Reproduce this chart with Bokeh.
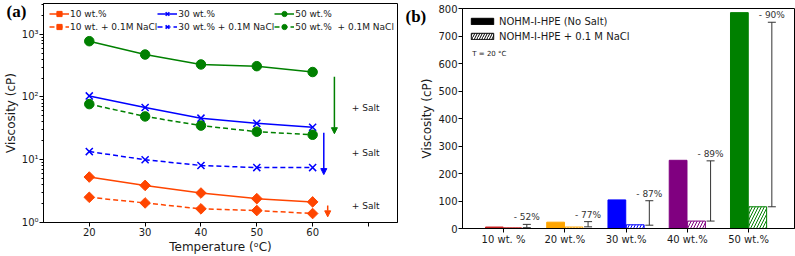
import numpy as np
from bokeh.plotting import figure
from bokeh.models import (ColumnDataSource, Legend, LegendItem, Label, Arrow,
                          NormalHead, Whisker, TeeHead, FixedTicker, Range1d)
from bokeh.layouts import row
from bokeh.embed import file_html
from bokeh.resources import INLINE
from bokeh.core.properties import value

# ---------------- data: panel (a) ----------------
temps = [20, 30, 40, 50, 60]
v10 = [5.3, 3.9, 2.95, 2.4, 2.13]
v10_salt = [2.52, 2.05, 1.65, 1.55, 1.39]
v30 = [104, 68, 46, 38, 33]
v30_salt = [13.5, 10.0, 8.1, 7.5, 7.5]
v50 = [775, 475, 330, 310, 250]
v50_salt = [77, 49, 35, 28, 25]

salt_text_x = 69.5
salt_text_y = [67, 12.8, 1.8]
arrow_x = [63.9, 62.0, 62.7]
arrow_top = [210, 27, 1.86]
arrow_bottom = [26, 5.8, 1.23]
arrow_colors = ["green", "blue", "orangered"]

x_ticks_a = [20, 30, 40, 50, 60, 70]
y_ticks_a = [1, 10, 100, 1000]
y_tick_labels_a = ["10⁰", "10¹", "10²", "10³"]

# ---------------- data: panel (b) ----------------
categories = ["10 wt. %", "20 wt.%", "30 wt.%", "40 wt.%", "50 wt.%"]
bar_colors = ["#c81e1e", "orange", "blue", "purple", "green"]
no_salt = [5.3, 23, 104, 248, 785]
with_salt = [2.5, 5.3, 13.5, 27, 79]
drop_low = [3, 6, 12, 27, 79]
drop_high = [15, 25, 101, 246, 750]
drop_labels = ["- 52%", "- 77%", "- 87%", "- 89%", "- 90%"]

FONT = "DejaVu Sans"
TXT = "#1a1a1a"

H = 256
TOP_A, BOTTOM_A = 3, 34


def style_axes(p):
    for ax in (p.xaxis, p.yaxis):
        ax.axis_line_color = "black"
        ax.major_tick_line_color = "black"
        ax.minor_tick_line_color = "black"
        ax.major_tick_in = 0
        ax.major_tick_out = 4
        ax.minor_tick_in = 0
        ax.minor_tick_out = 2
        ax.major_label_text_font = FONT
        ax.major_label_text_font_size = "10px"
        ax.major_label_text_color = TXT
        ax.major_label_standoff = 1
        ax.axis_label_text_font = FONT
        ax.axis_label_text_font_size = "12px"
        ax.axis_label_text_font_style = "normal"
        ax.axis_label_text_color = TXT
        ax.axis_label_standoff = 1
    p.xgrid.visible = False
    p.ygrid.visible = False
    p.outline_line_color = "black"
    p.outline_line_alpha = 1
    p.background_fill_color = "white"
    p.border_fill_color = "white"
    if "frame_align" in p.properties():
        p.frame_align = False


def panel_tag(p, text, offset, standoff):
    t = p.title
    t.text = text
    t.align = "left"
    t.offset = offset
    t.vertical_align = "bottom"
    t.text_font = "Liberation Serif"
    t.text_font_style = "bold"
    t.text_font_size = "17px"
    t.text_color = "black"
    try:
        t.standoff = standoff
    except Exception:
        t.standoff = 0


# ================= panel (a) =================
p1 = figure(width=400, height=H, y_axis_type="log",
            x_range=Range1d(11.8, 75.2), y_range=Range1d(1, 3090),
            output_backend="svg", toolbar_location=None,
            min_border_left=42, min_border_right=3, min_border_top=TOP_A,
            min_border_bottom=BOTTOM_A)
style_axes(p1)
panel_tag(p1, "(a)", -37, -34)
p1.xaxis.ticker = FixedTicker(ticks=x_ticks_a)
p1.xaxis.major_label_overrides = {70: ""}
p1.xaxis.minor_tick_line_color = None
minor = [m * d for d in (1, 10, 100, 1000) for m in range(2, 10)]
p1.yaxis.ticker = FixedTicker(ticks=y_ticks_a, minor_ticks=minor)
p1.yaxis.major_label_overrides = {t: l for t, l in zip(y_ticks_a, y_tick_labels_a)}
p1.xaxis.axis_label = "Temperature (ᵒC)"
p1.yaxis.axis_label = "Viscosity (cP)"

series = [
    ("10 wt.%", v10, "orangered", "solid", "diamond"),
    ("10 wt. + 0.1M NaCl", v10_salt, "orangered", "dashed", "diamond"),
    ("30 wt.%", v30, "blue", "solid", "x"),
    ("30 wt.% + 0.1M NaCl", v30_salt, "blue", "dashed", "x"),
    ("50 wt.%", v50, "green", "solid", "circle"),
    ("50 wt.%  + 0.1M NaCl", v50_salt, "green", "dashed", "circle"),
]
items = []
for label, vals, col, dash, mk in series:
    src = ColumnDataSource(dict(t=temps, v=vals))
    ld = "solid" if dash == "solid" else "5 3"
    ln = p1.line("t", "v", source=src, line_color=col, line_width=1.5, line_dash=ld)
    if mk == "diamond":
        sc = p1.scatter("t", "v", source=src, marker="square", size=7.5, angle=np.pi / 4,
                        fill_color=col, line_color=col)
    elif mk == "x":
        sc = p1.scatter("t", "v", source=src, marker="x", size=10, line_color=col,
                        line_width=1.5)
    else:
        sc = p1.scatter("t", "v", source=src, marker="circle", size=9.5,
                        fill_color=col, line_color=col)
    items.append(LegendItem(label=label, renderers=[ln, sc]))

frame_h_a = H - TOP_A - BOTTOM_A
leg1 = Legend(items=items, location=(6, frame_h_a - 30), orientation="vertical", nrows=2,
              border_line_color=None, background_fill_alpha=0,
              label_text_font=FONT, label_text_font_size="9px", label_text_color=TXT,
              glyph_width=20, glyph_height=13, label_height=12, label_standoff=1,
              spacing=0, padding=0, margin=0)
p1.add_layout(leg1)

for xa, yt, yb, col in zip(arrow_x, arrow_top, arrow_bottom, arrow_colors):
    p1.add_layout(Arrow(x_start=xa, y_start=yt, x_end=xa, y_end=yb,
                        line_color=col, line_width=1.5,
                        end=NormalHead(size=6, fill_color=col, line_color=col)))

for ys in salt_text_y:
    p1.add_layout(Label(x=salt_text_x, y=ys, text="+ Salt", text_align="center",
                        text_baseline="middle", text_font=FONT, text_font_size="9px",
                        text_color=TXT))

# ================= panel (b) =================
p2 = figure(width=395, height=H, x_range=Range1d(-0.67, 4.75), y_range=Range1d(0, 800),
            output_backend="svg", toolbar_location=None,
            min_border_left=62, min_border_right=1, min_border_top=8,
            min_border_bottom=28)
style_axes(p2)
panel_tag(p2, "(b)", -57, -34)
idx = np.arange(len(categories))
p2.xaxis.ticker = FixedTicker(ticks=list(idx))
p2.xaxis.major_label_overrides = {int(i): c for i, c in zip(idx, categories)}
p2.xaxis.minor_tick_line_color = None
p2.yaxis.ticker = FixedTicker(ticks=list(range(0, 801, 100)))
p2.yaxis.minor_tick_line_color = None
p2.yaxis.axis_label = "Viscosity (cP)"

src2 = ColumnDataSource(dict(x_ns=idx - 0.15, x_s=idx + 0.15, ns=no_salt, s=with_salt,
                             color=bar_colors, xw=idx + 0.38, low=drop_low,
                             high=drop_high, lab=drop_labels))
p2.vbar(x="x_ns", top="ns", bottom=0, width=0.29, source=src2,
        fill_color="color", line_color="color")
p2.vbar(x="x_s", top="s", bottom=0, width=0.29, source=src2,
        fill_color="white", line_color="color", hatch_pattern="/",
        hatch_color="color", hatch_scale=6, hatch_weight=1)

p2.add_layout(Whisker(source=src2, base="xw", lower="low", upper="high",
                      dimension="height", line_color="#333333", line_width=1,
                      upper_head=TeeHead(size=8, line_color="#333333", line_width=1),
                      lower_head=TeeHead(size=8, line_color="#333333", line_width=1)))
p2.text(x="xw", y="high", text="lab", source=src2, text_align="center",
        text_baseline="bottom", y_offset=-2, text_font=value(FONT),
        text_font_size="9px", text_color="#333333")

# legend proxies: zero-height boxes on the baseline (invisible in the plot)
proxy = ColumnDataSource(dict(x=idx[:1], top=[0]))
d1 = p2.vbar(x="x", top="top", bottom=0, width=0.29, source=proxy,
             fill_color="black", line_color="black")
d2 = p2.vbar(x="x", top="top", bottom=0, width=0.29, source=proxy,
             fill_color="white", line_color="black",
             hatch_pattern="/", hatch_color="black", hatch_scale=5, hatch_weight=1)
leg2 = Legend(items=[LegendItem(label="NOHM-I-HPE (No Salt)", renderers=[d1]),
                     LegendItem(label="NOHM-I-HPE + 0.1 M NaCl", renderers=[d2])],
              location="top_left", border_line_color=None, background_fill_alpha=0,
              label_text_font=FONT, label_text_font_size="10px", label_text_color=TXT,
              glyph_width=28, glyph_height=8, label_height=14, label_standoff=3,
              spacing=1, padding=2, margin=6)
p2.add_layout(leg2)

p2.add_layout(Label(x=-0.51, y=633, text="T = 20 °C", text_baseline="middle",
                    text_font=FONT, text_font_size="7px", text_color=TXT))

layout = row(p1, p2)
open("out.html", "w").write(file_html(layout, INLINE))
